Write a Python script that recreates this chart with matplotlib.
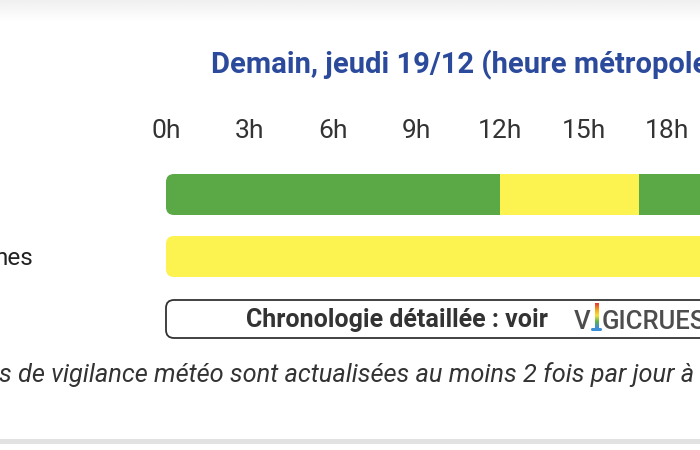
import numpy as np
import matplotlib
matplotlib.use("Agg")
import matplotlib.pyplot as plt
from matplotlib.patches import FancyBboxPatch
from matplotlib.colors import LinearSegmentedColormap

plt.rcParams['font.family'] = ['Roboto', 'DejaVu Sans']

# ---------------- data ----------------
title = "Demain, jeudi 19/12 (heure métropole)"
tick_hours = [0, 3, 6, 9, 12, 15, 18]
tick_labels = ["0h", "3h", "6h", "9h", "12h", "15h", "18h"]
row_labels = ["", "nes"]
# segments per row: start hour, end hour, level
row1_starts = [0, 12, 17]
row1_ends = [12, 17, 24]
row1_levels = ["vert", "jaune", "vert"]
row2_starts = [0]
row2_ends = [24]
row2_levels = ["jaune"]
box_text = "Chronologie détaillée : voir"
logo_text = ["V", "GICRUES"]
footer = "s de vigilance météo sont actualisées au moins 2 fois par jour à"

level_colors = {"vert": "#5AA846", "jaune": "#FCF350"}

# ---------------- layout ----------------
W, H = 700, 450
PX_PER_H = 27.83
X0 = 166  # pixel position of 0h


def px(xp):
    """pixel x -> hour units"""
    return (xp - X0) / PX_PER_H


fig = plt.figure(figsize=(7, 4.5), dpi=100)
ax = fig.add_axes([0, 0, 1, 1])
ax.set_xlim(px(0), px(W))
ax.set_ylim(H, 0)
ax.axis("off")

# top shading
grad = np.linspace(0.94, 1.0, 50).reshape(-1, 1)
ax.imshow(grad, cmap="gray", vmin=0, vmax=1, aspect="auto",
          extent=(px(0), px(W), 22, 0), zorder=0)

# bottom separator
ax.axhspan(439, 443.5, color="#E2E2E2", lw=0, zorder=0)

# title
ax.text(px(211), 73, title, fontsize=21, fontweight="bold",
        color="#2B4A9B", ha="left", va="baseline")

# hour labels
for h, lab in zip(tick_hours, tick_labels):
    ax.text(h, 138, lab, fontsize=19, color="#333333",
            ha="center", va="baseline")

# bars
rows = [(row1_starts, row1_ends, row1_levels, 174),
        (row2_starts, row2_ends, row2_levels, 236)]
bar_h = 41
radius = 8 / PX_PER_H
for (starts, ends, levels, ytop), lab in zip(rows, row_labels):
    clip = FancyBboxPatch((min(starts), ytop), max(ends) - min(starts), bar_h,
                          boxstyle=f"round,pad=0,rounding_size={radius}",
                          mutation_aspect=PX_PER_H, transform=ax.transData,
                          facecolor="none", edgecolor="none")
    ax.add_patch(clip)
    bars = ax.barh([ytop + bar_h / 2] * len(starts),
                   np.array(ends) - np.array(starts), left=starts,
                   height=bar_h, color=[level_colors[l] for l in levels],
                   linewidth=0, zorder=2)
    for b in bars:
        b.set_clip_path(clip)
    if lab:
        ax.text(px(33), 265, lab, fontsize=17.5, color="#222222",
                ha="right", va="baseline")

# chronology box
box = FancyBboxPatch((0, 300), 24, 38,
                     boxstyle=f"round,pad=0,rounding_size={radius}",
                     mutation_aspect=PX_PER_H, facecolor="white",
                     edgecolor="#333333", linewidth=1.3, zorder=2)
ax.add_patch(box)
ax.text(px(548), 327, box_text, fontsize=18, fontweight="bold",
        color="#333333", ha="right", va="baseline", zorder=3)

# VIGICRUES logo
ax.text(px(574), 329, logo_text[0], fontsize=18.5, fontweight="medium",
        color="#4D4D4D", ha="left", va="baseline", zorder=3)
ax.text(px(602), 329, logo_text[1], fontsize=18.5, fontweight="medium",
        color="#4D4D4D", ha="left", va="baseline", zorder=3)
rainbow = LinearSegmentedColormap.from_list(
    "rb", ["#E53935", "#F4A21D", "#F6E23A", "#5DB34A", "#3D8FD6"])
ax.imshow(np.linspace(0, 1, 40).reshape(-1, 1), cmap=rainbow, aspect="auto",
          extent=(px(594.5), px(598.5), 328, 303), zorder=3)
ax.add_patch(FancyBboxPatch((px(591), 328), px(602) - px(591), 3,
                            boxstyle=f"round,pad=0,rounding_size={1.5 / PX_PER_H}",
                            mutation_aspect=PX_PER_H, facecolor="#3D8FD6",
                            edgecolor="none", zorder=3))

# footer
ax.text(px(-1), 382, footer, fontsize=18.3, fontstyle="italic",
        color="#333333", ha="left", va="baseline")

fig.savefig("out.png", dpi=100)
